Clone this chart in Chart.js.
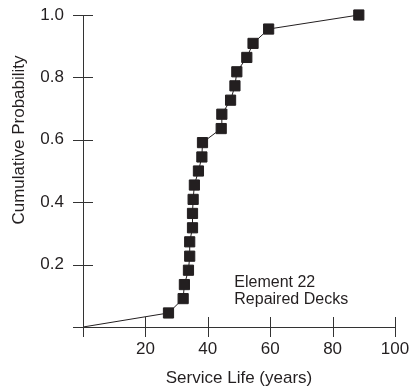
<!DOCTYPE html>
<html>
<head>
<meta charset="utf-8">
<script src="https://cdn.jsdelivr.net/npm/chart.js@4"></script>
<style>
  html, body { margin: 0; padding: 0; background: #fff; }
  #wrap { width: 412px; height: 392px; }
</style>
</head>
<body>
<div id="wrap"><canvas id="chart-vida"></canvas></div>
<script>
// Datos
const vidaServicio = [27.4, 32.1, 32.5, 33.8, 34.2, 34.2, 35.1, 35.1, 35.3, 35.7, 37.0,
                      38.1, 38.3, 44.3, 44.5, 47.3, 48.7, 49.3, 52.5, 54.5, 59.5, 88.4];
const probAcumulada = [0.045, 0.091, 0.136, 0.182, 0.227, 0.273, 0.318, 0.364, 0.409, 0.455, 0.5,
                       0.545, 0.591, 0.636, 0.682, 0.727, 0.773, 0.818, 0.864, 0.909, 0.955, 1.0];
const ticksX = [20, 40, 60, 80, 100];
const ticksY = [0.2, 0.4, 0.6, 0.8, 1.0];
const tituloX = 'Service Life (years)';
const tituloY = 'Cumulative Probability';
const notas = ['Element 22', 'Repaired Decks'];

const FUENTE = '17px "Liberation Sans", Arial, sans-serif';
const FUENTE_NOTA = '16px "Liberation Sans", Arial, sans-serif';
const COLOR = '#231f20';

// la curva arranca en el origen sin marcador
const puntos = [{ x: 0, y: 0 }];
vidaServicio.forEach((v, i) => puntos.push({ x: v, y: probAcumulada[i] }));

// Ejes, marcas y textos dibujados a mano (las marcas cruzan el eje)
const ejesPlugin = {
    id: 'ejes',
    afterDraw(chart) {
        const ctx = chart.ctx;
        const sx = chart.scales.x;
        const sy = chart.scales.y;
        const x0 = sx.getPixelForValue(0);
        const y0 = sy.getPixelForValue(0);
        ctx.save();
        ctx.strokeStyle = '#333';
        ctx.lineWidth = 1;
        ctx.beginPath();
        ctx.moveTo(x0 - 10, y0 + 0.5);
        ctx.lineTo(sx.getPixelForValue(100), y0 + 0.5);
        ctx.moveTo(x0 + 0.5, y0 + 10);
        ctx.lineTo(x0 + 0.5, sy.getPixelForValue(1));
        ticksX.forEach(t => {
            const px = Math.round(sx.getPixelForValue(t)) + 0.5;
            ctx.moveTo(px, y0 - 10);
            ctx.lineTo(px, y0 + 10);
        });
        ticksY.forEach(t => {
            const py = Math.round(sy.getPixelForValue(t)) + 0.5;
            ctx.moveTo(x0 - 10, py);
            ctx.lineTo(x0 + 10, py);
        });
        ctx.stroke();

        ctx.fillStyle = COLOR;
        ctx.font = FUENTE;
        ctx.textAlign = 'center';
        ctx.textBaseline = 'middle';
        ticksX.forEach(t => ctx.fillText(String(t), sx.getPixelForValue(t), y0 + 22));
        ctx.textAlign = 'right';
        ticksY.forEach(t => ctx.fillText(t.toFixed(1), x0 - 19, sy.getPixelForValue(t)));

        ctx.textAlign = 'center';
        ctx.fillText(tituloX, (sx.left + sx.right) / 2, y0 + 51);
        ctx.save();
        ctx.translate(19, 140);
        ctx.rotate(-Math.PI / 2);
        ctx.fillText(tituloY, 0, 0);
        ctx.restore();

        ctx.font = FUENTE_NOTA;
        ctx.textAlign = 'left';
        ctx.fillText(notas[0], sx.getPixelForValue(48.5), sy.getPixelForValue(0.1435));
        ctx.fillText(notas[1], sx.getPixelForValue(48.5), sy.getPixelForValue(0.089));
        ctx.restore();
    }
};

new Chart(document.getElementById('chart-vida').getContext('2d'), {
    type: 'scatter',
    data: {
        datasets: [{
            data: puntos,
            showLine: true,
            borderColor: COLOR,
            borderWidth: 1,
            backgroundColor: COLOR,
            pointStyle: 'rect',
            pointRadius: ctx => ctx.dataIndex === 0 ? 0 : 7.2,
            pointBorderWidth: 1,
            pointBorderColor: COLOR,
            pointBackgroundColor: COLOR,
            clip: false
        }]
    },
    options: {
        responsive: true,
        maintainAspectRatio: false,
        animation: false,
        layout: { padding: { left: 83, right: 17, top: 15, bottom: 65 } },
        plugins: { legend: { display: false }, tooltip: { enabled: false } },
        scales: {
            x: { type: 'linear', min: 0, max: 100, display: false },
            y: { type: 'linear', min: 0, max: 1, display: false }
        }
    },
    plugins: [ejesPlugin]
});
</script>
</body>
</html>
